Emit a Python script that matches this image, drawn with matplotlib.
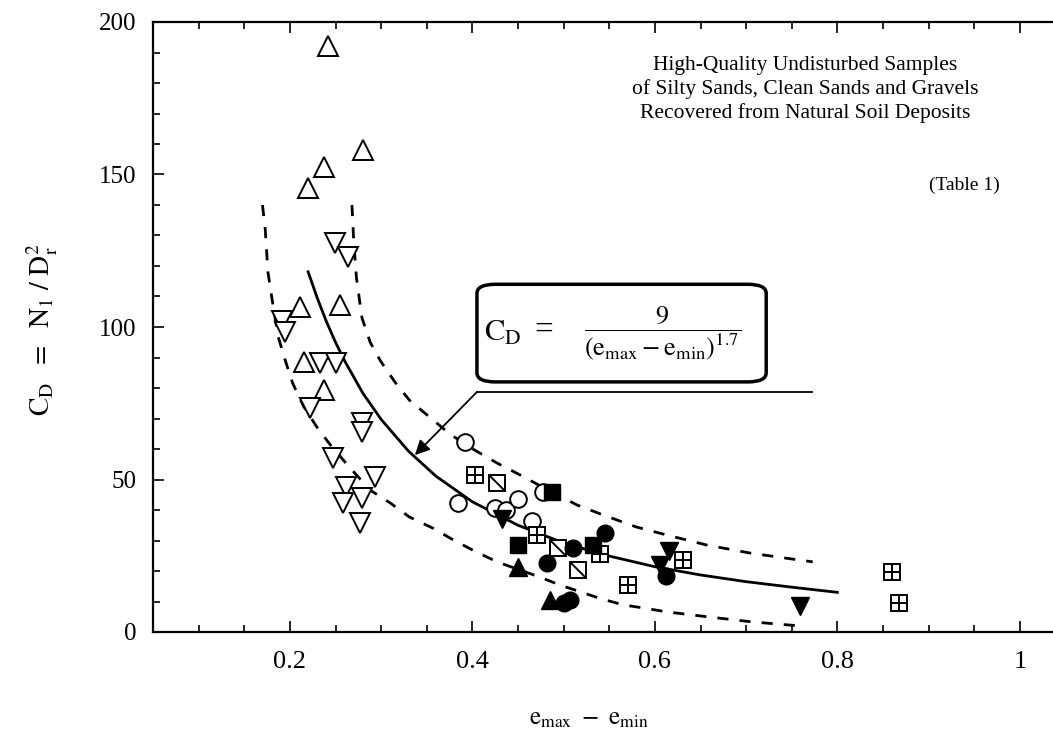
import matplotlib
matplotlib.use("Agg")
import matplotlib.pyplot as plt
from matplotlib.patches import FancyBboxPatch
from matplotlib.path import Path
from matplotlib.ticker import MultipleLocator

plt.rcParams["font.family"] = ["Liberation Serif", "DejaVu Serif"]
plt.rcParams["mathtext.fontset"] = "stix"

# fitted curve C_D = 9 / (emax - emin)^1.7
fit_x = [0.22, 0.23, 0.24, 0.25, 0.26, 0.28, 0.30, 0.33, 0.36, 0.40,
         0.45, 0.50, 0.55, 0.60, 0.65, 0.70, 0.75, 0.80]
fit_y = [118.1, 109.5, 101.8, 95.0, 88.9, 78.3, 69.7, 59.3, 51.1, 42.7,
         35.0, 29.2, 24.9, 21.4, 18.7, 16.5, 14.7, 13.0]

# upper / lower dashed bounds
upper_x = [0.268, 0.270, 0.273, 0.279, 0.288, 0.299, 0.315, 0.331, 0.353, 0.375,
           0.397, 0.427, 0.449, 0.477, 0.515, 0.543, 0.580, 0.613, 0.657, 0.704,
           0.751, 0.773]
upper_y = [140, 128, 116, 103, 95, 89, 82, 76, 70.5, 65, 60.6, 55.4, 52, 47.5,
           41.6, 38.4, 34.4, 31.8, 28.5, 25.9, 23.9, 23.0]
lower_x = [0.170, 0.173, 0.176, 0.180, 0.187, 0.195, 0.203, 0.215, 0.230, 0.246,
           0.266, 0.288, 0.310, 0.331, 0.357, 0.379, 0.400, 0.427, 0.474, 0.496,
           0.540, 0.565, 0.587, 0.613, 0.660, 0.707, 0.759]
lower_y = [140, 132, 118, 110, 97, 89, 81.6, 74, 67, 60.7, 53.8, 46.5, 42.3, 37.7,
           34, 30.2, 26.9, 23, 18, 15.4, 11.0, 8.9, 7.9, 6.6, 4.9, 3.3, 2.0]

# sample points by symbol
tri_up_open_x = [0.242, 0.280, 0.237, 0.220, 0.211, 0.255, 0.216, 0.237]
tri_up_open_y = [192, 158, 152.5, 145.5, 106.6, 107.2, 88.5, 79.5]

tri_dn_open_x = [0.249, 0.264, 0.191, 0.195, 0.233, 0.251, 0.222, 0.279, 0.279,
                 0.247, 0.293, 0.262, 0.279, 0.258, 0.277]
tri_dn_open_y = [127.5, 123, 102, 98.5, 88.2, 88.2, 73.4, 68.5, 65.6,
                 57, 50.8, 47.5, 44, 42.3, 35.7]

circ_open_x = [0.392, 0.384, 0.425, 0.437, 0.450, 0.465, 0.477]
circ_open_y = [62.3, 42.3, 40.5, 40.0, 43.5, 36.5, 45.8]

sq_cross_x = [0.403, 0.471, 0.540, 0.570, 0.631, 0.860, 0.868]
sq_cross_y = [51.5, 31.8, 25.5, 15.5, 23.6, 19.7, 9.5]

sq_diag_x = [0.427, 0.494, 0.516]
sq_diag_y = [48.9, 27.5, 20.3]

sq_fill_x = [0.450, 0.487, 0.532]
sq_fill_y = [28.5, 46.0, 28.5]

tri_up_fill_x = [0.450, 0.485]
tri_up_fill_y = [21.3, 10.5]

circ_fill_x = [0.545, 0.510, 0.482, 0.500, 0.507, 0.612]
circ_fill_y = [32.5, 27.5, 22.6, 9.5, 10.5, 18.5]

tri_dn_fill_x = [0.432, 0.616, 0.606, 0.759]
tri_dn_fill_y = [37.0, 26.5, 22.0, 8.5]

x_ticks = [0.2, 0.4, 0.6, 0.8, 1.0]
x_ticklabels = ["0.2", "0.4", "0.6", "0.8", "1"]

fig = plt.figure(figsize=(10.53, 7.36), dpi=100)
ax = fig.add_axes([153 / 1053, 104 / 736, 912.5 / 1053, 610 / 736])

ax.plot(fit_x, fit_y, color="black", lw=2.0)
ax.plot(upper_x, upper_y, color="black", lw=2.0, ls=(0, (4, 4)))
ax.plot(lower_x, lower_y, color="black", lw=2.0, ls=(0, (4, 4)))

open_kw = dict(ls="none", mfc="white", mec="black", mew=1.4)
ax.plot(tri_up_open_x, tri_up_open_y, marker="^", ms=14, **open_kw)
ax.plot(tri_dn_open_x, tri_dn_open_y, marker="v", ms=14, **open_kw)
ax.plot(circ_open_x, circ_open_y, marker="o", ms=12, **open_kw)
ax.plot(sq_cross_x, sq_cross_y, marker="s", ms=11, **open_kw)
ax.plot(sq_cross_x, sq_cross_y, marker="+", ms=11, ls="none", mec="black", mew=1.4)
ax.plot(sq_diag_x, sq_diag_y, marker="s", ms=11, **open_kw)
diag = Path([(-0.5, 0.5), (0.5, -0.5)], [Path.MOVETO, Path.LINETO])
ax.plot(sq_diag_x, sq_diag_y, marker=diag, ms=11, ls="none", mec="black", mew=1.4)

ax.plot(sq_fill_x, sq_fill_y, marker="s", ms=11, ls="none", color="black")
ax.plot(tri_up_fill_x, tri_up_fill_y, marker="^", ms=13, ls="none", color="black")
ax.plot(circ_fill_x, circ_fill_y, marker="o", ms=12, ls="none", color="black")
ax.plot(tri_dn_fill_x, tri_dn_fill_y, marker="v", ms=13, ls="none", color="black")

ax.set_xlim(0.05, 1.05)
ax.set_ylim(0, 200)
ax.xaxis.set_minor_locator(MultipleLocator(0.05))
ax.yaxis.set_major_locator(MultipleLocator(50))
ax.yaxis.set_minor_locator(MultipleLocator(10))
ax.set_xticks(x_ticks)
ax.set_xticklabels(x_ticklabels)
ax.tick_params(which="both", direction="in", top=True, right=True, width=1.2)
ax.tick_params(axis="x", which="major", labelsize=19, pad=14)
ax.tick_params(axis="y", which="major", labelsize=18, pad=12)
ax.tick_params(which="major", length=8)
ax.tick_params(which="minor", length=5)
for s in ax.spines.values():
    s.set_linewidth(1.6)

ax.set_ylabel(r"$\mathrm{C_D\ \ =\ \ N_1\ /\ D_r^2}$", fontsize=20)
ax.yaxis.set_label_coords(-0.102, 0.495)
ax.set_xlabel(r"$\mathrm{e_{max}\ -\ e_{min}}$", fontsize=18)
ax.xaxis.set_label_coords(0.478, -0.125)

ax.text(0.765, 189, "High-Quality Undisturbed Samples\n"
        "of Silty Sands, Clean Sands and Gravels\n"
        "Recovered from Natural Soil Deposits",
        fontsize=15.5, ha="center", va="top", linespacing=1.3)
ax.text(0.978, 146.5, "(Table 1)", fontsize=14, ha="right", va="center")

box = FancyBboxPatch((0.405, 82), 0.317, 32, boxstyle="round,pad=0,rounding_size=0.02",
                     mutation_aspect=150,
                     fc="white", ec="black", lw=2.5)
ax.add_patch(box)
ax.text(0.413, 98, r"$\mathrm{C_D}$", fontsize=22, ha="left", va="center")
ax.text(0.468, 99, "=", fontsize=24, ha="left", va="center")
ax.text(0.608, 98, r"$\mathrm{\dfrac{9}{(e_{max} - e_{min})^{1.7}}}$",
        fontsize=19, ha="center", va="center")

ax.plot([0.772, 0.405], [78.7, 78.7], color="black", lw=1.3)
ax.annotate("", xy=(0.337, 58), xytext=(0.405, 78.7),
            arrowprops=dict(arrowstyle="-|>", color="black", lw=1.3,
                            mutation_scale=22, shrinkA=0, shrinkB=0))

fig.savefig("out.png", dpi=100)
